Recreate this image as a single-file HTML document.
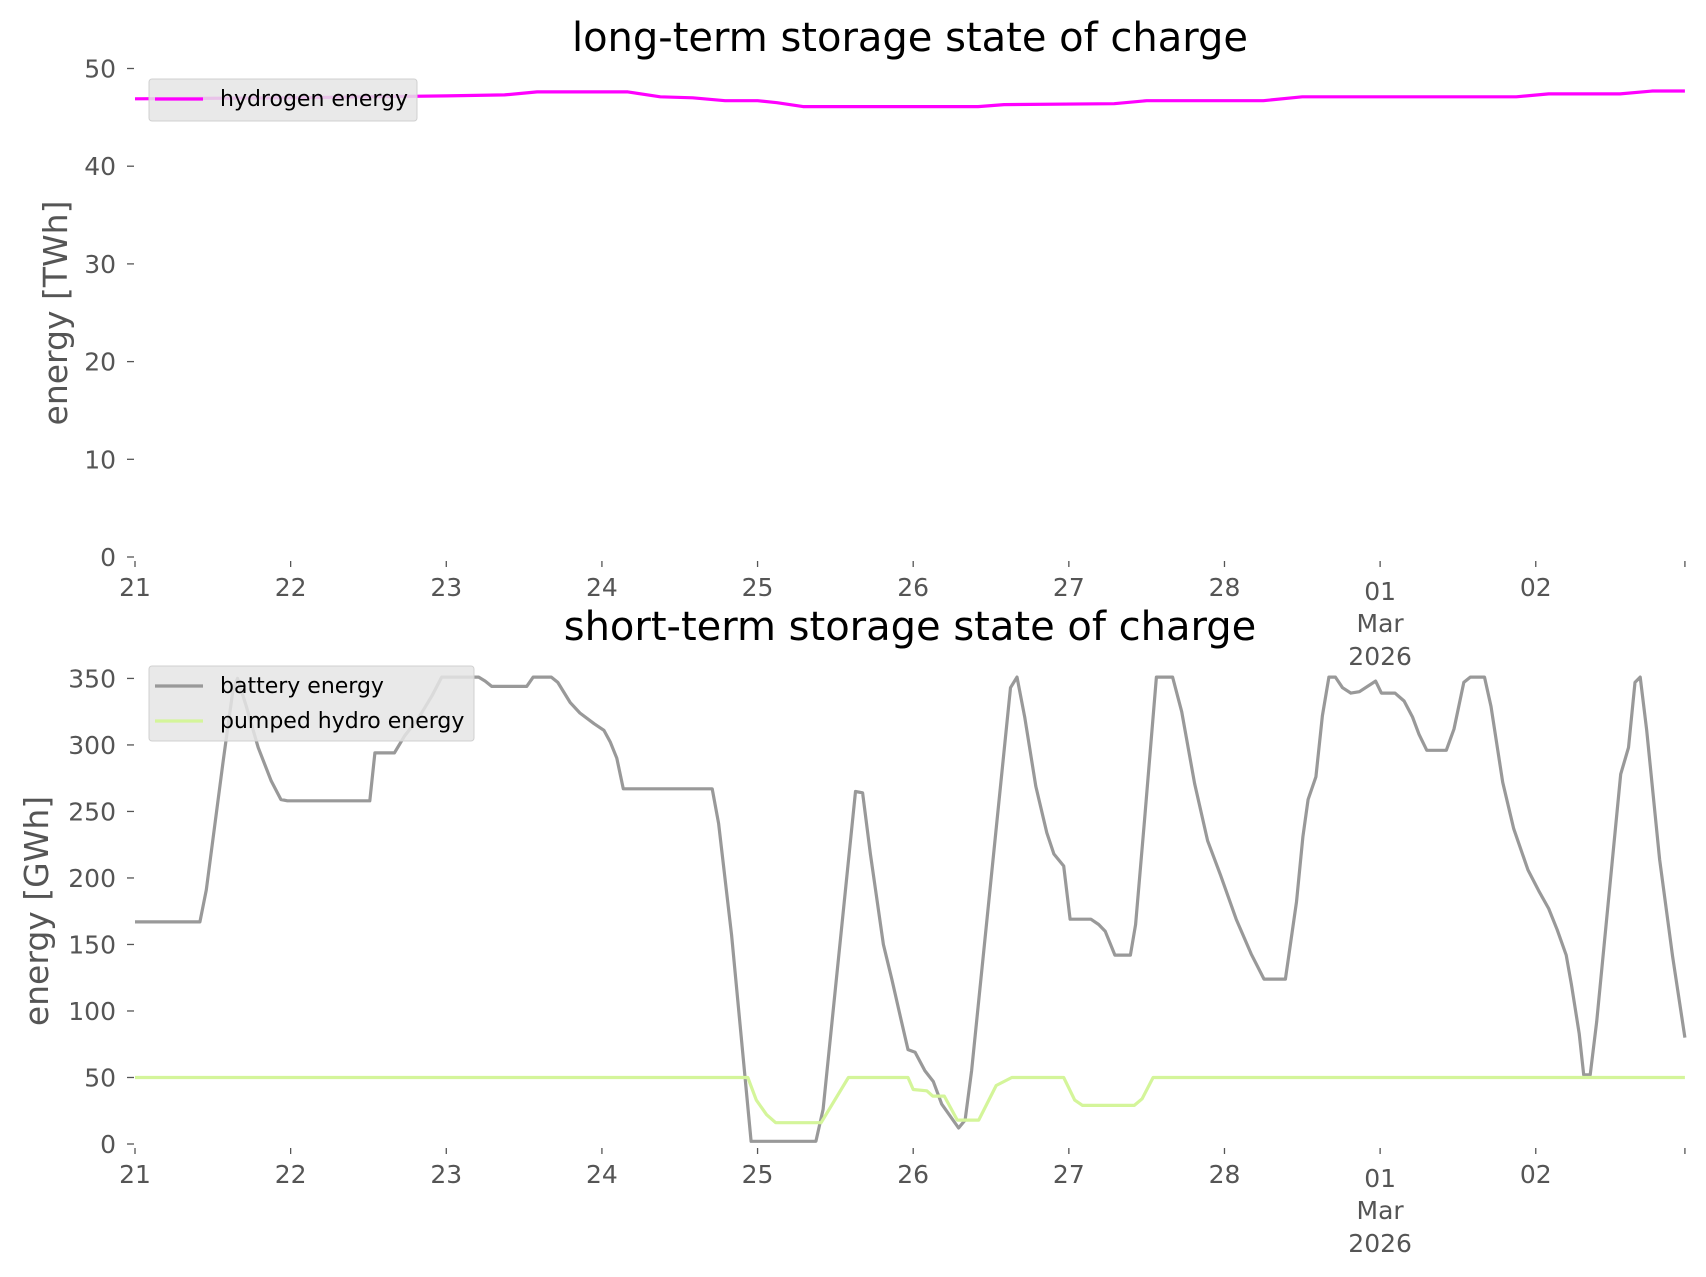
<!DOCTYPE html>
<html><head><meta charset="utf-8">
<style>
html,body{margin:0;padding:0;background:#fff;}
svg{display:block;font-family:"DejaVu Sans","Liberation Sans",sans-serif;}
</style></head>
<body>
<svg id="chart" width="1706" height="1277" viewBox="0 0 1706 1277" xmlns="http://www.w3.org/2000/svg"></svg>
<script>
// ---- data ----
const dayLabels = ["21","22","23","24","25","26","27","28","01","02"];
const hydrogenHours = [0,24,48,57,62,76,81,86,91,96,99,103,130,134,151,156,174,180,213,218,229,234,239];
const hydrogenValues = [46.9,47.0,47.2,47.3,47.6,47.6,47.1,47.0,46.7,46.7,46.5,46.1,46.1,46.3,46.4,46.7,46.7,47.1,47.1,47.4,47.4,47.7,47.7];
const batteryHours = [0,10,11,13.6,15.1,15.8,17.1,19,21,22.5,23.5,36.2,37,40,41.6,43.7,45.8,47.3,53,54,55,60.4,61.4,64.2,65.2,67.1,68.6,70.8,72.3,73.3,74.3,75.3,89,90,92,95,105,106.1,111.1,112.2,113.4,115.4,116.7,118.1,119.2,120.3,121.8,123.1,124.4,127,128,129,135,136,137.2,138.9,140.6,141.7,143.2,144.2,147.4,148.6,149.6,151.1,153.5,154.3,155.7,157.5,160,161.4,163.4,165.4,167.4,169.8,172.1,174.1,177.4,179.1,180.1,180.9,182.1,183.1,184.1,185.1,186.2,187.5,188.8,191.3,192.2,194.3,195.7,197,198,199.2,202.2,203.4,204.9,205.9,208.1,209.1,210.9,212.6,214.8,216.5,218,219.3,220.7,221.5,222.7,223.4,224.4,225.4,229.1,230.3,231.3,232.1,233.1,235.1,237.1,239];
const batteryValues = [167,167,191,288,341,350,330,298,273,259,258,258,294,294,307,320,337,351,351,348,344,344,351,351,347,332,324,316,311,302,290,267,267,241,157,2,2,26,265,264,218,150,124,94,71,69,55,47,30,12,18,55,343,351,321,269,234,218,209,169,169,165,160,142,142,165,245,351,351,325,271,228,202,169,143,124,124,182,231,259,276,322,351,351,343,339,340,348,339,339,333,321,308,296,296,312,347,351,351,329,272,237,206,190,177,161,142,120,83,52,52,92,278,298,347,351,311,214,141,80];
const hydroHours = [0,94.5,95.8,97.4,98.8,105.8,110,119.2,120,122.1,123,124.8,126.8,130.1,132.8,135.2,143.2,144.9,146.1,154.1,155.3,157,239];
const hydroValues = [50,50,33,22,16,16,50,50,41,40,36,36,18,18,44,50,50,33,29,29,34,50,50];
const topTicks = [0,10,20,30,40,50];
const bottomTicks = [0,50,100,150,200,250,300,350];

const NS="http://www.w3.org/2000/svg";
const svg=document.getElementById('chart');
function el(tag,attrs,parent){const e=document.createElementNS(NS,tag);for(const k in attrs)e.setAttribute(k,attrs[k]);(parent||svg).appendChild(e);return e;}
const X0=135, PXH=6.485;
function xs(h){return X0+h*PXH;}
const topY=v=>557-v*9.77;
const botY=v=>1144-v*1.3302;

function axes(g,yfn,ticks,base){
  ticks.forEach(t=>{
    const y=yfn(t);
    const tk=el('line',{x1:127,x2:134,y1:y,y2:y,stroke:'#555','stroke-width':1.3},g);
    
    
    const tx=el('text',{x:116,y:y+9,'text-anchor':'end','font-size':25,fill:'#555'},g);
    tx.textContent=t;
    
    
  });
  for(let d=0;d<=10;d++){
    const x=Math.min(xs(d*24),xs(239));
    const tk=el('line',{x1:x,x2:x,y1:base+4,y2:base+10,stroke:'#555','stroke-width':1.3},g);
    
    
    if(d<dayLabels.length){
      const isMar=dayLabels[d]==="01";
      const tx=el('text',{x:x,y:base+(isMar?43:39),'text-anchor':'middle','font-size':25,fill:'#555'},g);
      tx.textContent=dayLabels[d];
      
      
      if(isMar){
        ['Mar','2026'].forEach((s,i)=>{
          const t2=el('text',{x:x,y:base+75+i*33,'text-anchor':'middle','font-size':25,fill:'#555'},g);
          t2.textContent=s;
          
          
        });
      }
    }
  }
}
function line(g,hours,vals,yfn,color,name){
  const p=hours.map((h,i)=>xs(h).toFixed(1)+','+yfn(vals[i]).toFixed(1)).join(' ');
  const pl=el('polyline',{points:p,fill:'none',stroke:color,'stroke-width':3.2,'stroke-linejoin':'round'},g);
  
  
}
function title(text,y,name){
  const t=el('text',{x:910,y:y,'text-anchor':'middle','font-size':40,fill:'#000'});
  t.textContent=text;
  
  
}
function ylabel(text,x,y,name){
  const t=el('text',{x:0,y:0,transform:`translate(${x},${y}) rotate(-90)`,'text-anchor':'middle','font-size':33,fill:'#555'});
  t.textContent=text;
  
  
}
function legend(g,x,y,w,entries){
  const h=entries.length===1?42:75;
  const b=el('rect',{x:x,y:y,width:w,height:h,rx:3,fill:'#e5e5e5','fill-opacity':0.85,stroke:'#d0d0d0'},g);
  
  
  entries.forEach((e,i)=>{
    const cy=y+20+i*35;
    const l=el('line',{x1:x+6,x2:x+54,y1:cy,y2:cy,stroke:e[1],'stroke-width':3.2},g);
    
    
    const t=el('text',{x:x+71,y:cy+7,'font-size':22,fill:'#000'},g);
    t.textContent=e[0];
    
    
  });
}

title('long-term storage state of charge',51,'top-chart-title');
title('short-term storage state of charge',640,'bottom-chart-title');
ylabel('energy [TWh]',67,313,'top-y-axis-title');
ylabel('energy [GWh]',48,911,'bottom-y-axis-title');

const g1=el('g',{});


axes(g1,topY,topTicks,557);
line(g1,hydrogenHours,hydrogenValues,topY,'#ff00ff','hydrogen-line');
legend(g1,149,79,268,[['hydrogen energy','#ff00ff']]);

const g2=el('g',{});


axes(g2,botY,bottomTicks,1144);
line(g2,batteryHours,batteryValues,botY,'#999999','battery-line');
line(g2,hydroHours,hydroValues,botY,'#d4f59a','pumped-hydro-line');
legend(g2,149,666,325,[['battery energy','#999999'],['pumped hydro energy','#d4f59a']]);
</script>
</body></html>
